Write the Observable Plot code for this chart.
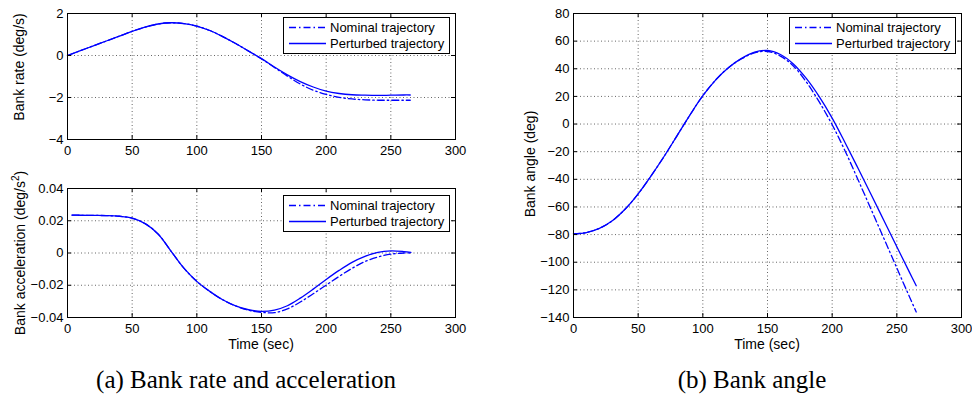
<!DOCTYPE html>
<html><head><meta charset="utf-8">
<script src="https://cdn.jsdelivr.net/npm/d3@7"></script>
<script src="https://cdn.jsdelivr.net/npm/@observablehq/plot@0.6"></script>
<style>
html,body{margin:0;padding:0;background:#fff;}
#root{position:relative;width:972px;height:397px;overflow:hidden;background:#fff;}
#root > svg{position:absolute;}
</style></head><body><div id="root"></div>
<script>
// ---- data ----
const timeTicks = [0, 50, 100, 150, 200, 250, 300];
const rateTicks = [-4, -2, 0, 2];
const accelTicks = [-0.04, -0.02, 0, 0.02, 0.04];
const angleTicks = [-140, -120, -100, -80, -60, -40, -20, 0, 20, 40, 60, 80];

const time = [0, 10, 20, 30, 40, 50, 60, 70, 80, 90, 100, 110, 120, 130, 140, 150, 160, 170, 180, 190, 200, 210, 220, 230, 240, 250, 260, 265];
const accelTime = [3.5, 10, 20, 30, 40, 50, 60, 70, 80, 90, 100, 110, 120, 130, 140, 150, 160, 170, 180, 190, 200, 210, 220, 230, 240, 250, 260, 265.5];

const rateNominal   = [0, 0.23, 0.46, 0.69, 0.92, 1.15, 1.35, 1.50, 1.56, 1.52, 1.40, 1.19, 0.90, 0.57, 0.21, -0.16, -0.57, -0.98, -1.36, -1.65, -1.85, -1.99, -2.07, -2.11, -2.13, -2.13, -2.13, -2.13];
const ratePerturbed = [0, 0.23, 0.46, 0.69, 0.92, 1.15, 1.35, 1.50, 1.56, 1.52, 1.40, 1.19, 0.90, 0.57, 0.21, -0.15, -0.55, -0.92, -1.24, -1.50, -1.70, -1.81, -1.87, -1.89, -1.90, -1.89, -1.88, -1.88];

const accelNominal   = [0.0235, 0.0234, 0.0233, 0.0232, 0.0228, 0.0216, 0.0182, 0.0118, 0.0012, -0.0094, -0.0176, -0.0238, -0.0290, -0.0328, -0.0355, -0.0368, -0.0370, -0.0347, -0.0304, -0.0253, -0.0199, -0.0145, -0.0095, -0.0053, -0.0025, -0.0007, 0.0000, 0.0000];
const accelPerturbed = [0.0235, 0.0234, 0.0233, 0.0232, 0.0228, 0.0216, 0.0182, 0.0118, 0.0012, -0.0094, -0.0176, -0.0238, -0.0290, -0.0328, -0.0352, -0.0362, -0.0354, -0.0327, -0.0280, -0.0224, -0.0164, -0.0108, -0.0058, -0.0021, 0.0004, 0.0013, 0.0009, 0.0004];

const angleNominal   = [-79.5, -78.5, -75.5, -70, -61.5, -50.5, -37.5, -23.5, -8.5, 6.5, 20.5, 32, 41, 47.3, 51.5, 52.5, 49.2, 42, 30.5, 16, -0.5, -19.5, -40.3, -61.5, -82.8, -104.2, -125.5, -136];
const anglePerturbed = [-79.5, -78.5, -75.5, -70, -61.5, -50.5, -37.5, -23.5, -8.5, 6.5, 20.5, 32, 41, 47.5, 52, 53.3, 50.3, 43.5, 33, 19.8, 4.3, -13.5, -32, -50.8, -69.8, -88.8, -107.7, -117];

const seriesNames = ["Nominal trajectory", "Perturbed trajectory"];
const captions = ["(a) Bank rate and acceleration", "(b) Bank angle"];

// ---- drawing ----
const BLUE = "#0000ff";
const DASHDOT = "7,3,1.5,3";
const root = document.getElementById("root");
const minus = v => (v < 0 ? "\u2212" : "") + Math.abs(v);
const fmtInt = d => minus(d);
const fmtAcc = d => d === 0 ? "0" : (d < 0 ? "\u2212" : "") + Math.abs(d).toFixed(2);

function panel({left, top, width, height, mt, mr, mb, ml, yDomain, yTicks, yFmt, t, nominal, perturbed}) {
  const nom = t.map((x, i) => ({t: x, v: nominal[i]}));
  const per = t.map((x, i) => ({t: x, v: perturbed[i]}));
  const H = height - mt - mb, W = width - ml - mr;
  const grid = {stroke: "#000", strokeOpacity: 0.6, strokeWidth: 1, strokeDasharray: "1,2.5"};
  const svg = Plot.plot({
    width, height, marginTop: mt, marginRight: mr, marginBottom: mb, marginLeft: ml,
    x: {domain: [0, 300]},
    y: {domain: yDomain},
    style: {fontFamily: "'Liberation Sans', Arial, sans-serif", fontSize: "13px", color: "#000", background: "transparent", overflow: "visible"},
    marks: [
      Plot.gridX(timeTicks, grid),
      Plot.gridY(yTicks, grid),
      Plot.line(nom, {x: "t", y: "v", stroke: BLUE, strokeWidth: 1.3, strokeDasharray: DASHDOT, curve: "catmull-rom"}),
      Plot.line(per, {x: "t", y: "v", stroke: BLUE, strokeWidth: 1.3, curve: "catmull-rom"}),
      Plot.tickX(timeTicks, {x: d => d, insetTop: H - 4, stroke: "#000"}),
      Plot.tickX(timeTicks, {x: d => d, insetBottom: H - 4, stroke: "#000"}),
      Plot.tickY(yTicks, {y: d => d, insetRight: W - 4, stroke: "#000"}),
      Plot.tickY(yTicks, {y: d => d, insetLeft: W - 4, stroke: "#000"}),
      Plot.axisX(timeTicks, {tickSize: 0, tickPadding: 6, label: null, tickFormat: fmtInt}),
      Plot.axisY(yTicks, {tickSize: 0, tickPadding: 4, label: null, tickFormat: yFmt}),
      Plot.frame({stroke: "#000", strokeWidth: 1})
    ]
  });
  svg.style.position = "absolute";
  svg.style.left = left + "px";
  svg.style.top = top + "px";
  root.appendChild(svg);
}

panel({left: 0, top: 0, width: 470, height: 160, mt: 13, mr: 15, mb: 21, ml: 67,
  yDomain: [-4, 2], yTicks: rateTicks, yFmt: fmtInt, t: time, nominal: rateNominal, perturbed: ratePerturbed});
panel({left: 0, top: 160, width: 470, height: 180, mt: 28, mr: 15, mb: 23, ml: 67,
  yDomain: [-0.04, 0.04], yTicks: accelTicks, yFmt: fmtAcc, t: accelTime, nominal: accelNominal, perturbed: accelPerturbed});
panel({left: 500, top: 0, width: 472, height: 340, mt: 13, mr: 11, mb: 23, ml: 73,
  yDomain: [-140, 80], yTicks: angleTicks, yFmt: fmtInt, t: time, nominal: angleNominal, perturbed: anglePerturbed});

// overlay: legends, axis labels, captions
const ov = d3.create("svg").attr("width", 972).attr("height", 397)
  .style("position", "absolute").style("left", "0px").style("top", "0px")
  .style("font-family", "'Liberation Sans', Arial, sans-serif");

function legend(x, y) {
  const g = ov.append("g").attr("transform", `translate(${x},${y})`);
  g.append("rect").attr("x", 0.5).attr("y", 0.5).attr("width", 166).attr("height", 36)
    .attr("fill", "#fff").attr("stroke", "#000").attr("stroke-width", 1);
  seriesNames.forEach((name, i) => {
    const yy = 10.5 + i * 16;
    g.append("line").attr("x1", 6).attr("x2", 43).attr("y1", yy).attr("y2", yy)
      .attr("stroke", BLUE).attr("stroke-width", 1.3)
      .attr("stroke-dasharray", i === 0 ? DASHDOT : null);
    g.append("text").attr("x", 47).attr("y", yy + 4.6).attr("font-size", 13).attr("fill", "#000").text(name);
  });
}
legend(283, 17);
legend(283, 195);
legend(789, 17);

function vlabel(x, y, txt, sup) {
  const t = ov.append("text").attr("transform", `translate(${x},${y}) rotate(-90)`)
    .attr("text-anchor", "middle").attr("font-size", 14).attr("fill", "#000");
  t.append("tspan").text(txt);
  if (sup) {
    t.append("tspan").attr("font-size", 10).attr("dy", -6).text(sup);
    t.append("tspan").attr("dy", 6).text(")");
  }
}
vlabel(23.5, 67, "Bank rate (deg/s)");
vlabel(24.5, 253, "Bank acceleration (deg/s", "2");
vlabel(535, 164, "Bank angle (deg)");

ov.append("text").attr("x", 261).attr("y", 348.5).attr("text-anchor", "middle").attr("font-size", 14).text("Time (sec)");
ov.append("text").attr("x", 767).attr("y", 348.5).attr("text-anchor", "middle").attr("font-size", 14).text("Time (sec)");

ov.append("text").attr("x", 246).attr("y", 388).attr("text-anchor", "middle")
  .attr("font-family", "'Liberation Serif', 'Times New Roman', serif").attr("font-size", 25).text(captions[0]);
ov.append("text").attr("x", 752).attr("y", 388).attr("text-anchor", "middle")
  .attr("font-family", "'Liberation Serif', 'Times New Roman', serif").attr("font-size", 25).text(captions[1]);

root.appendChild(ov.node());
</script></body></html>
